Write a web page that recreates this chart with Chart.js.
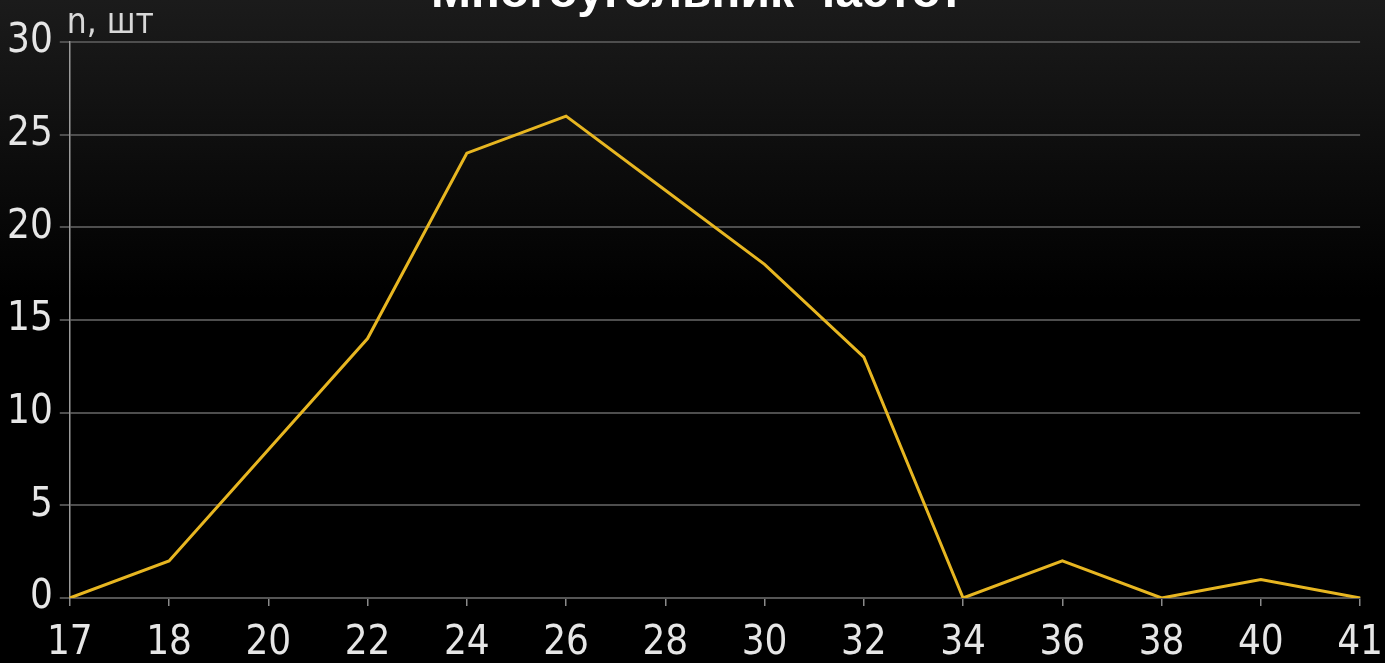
<!DOCTYPE html>
<html>
<head>
<meta charset="utf-8">
<script src="https://cdn.jsdelivr.net/npm/chart.js@4.4.1/dist/chart.umd.min.js"></script>
<style>
    html, body { margin: 0; padding: 0; }
    body {
        width: 1385px; height: 663px; overflow: hidden;
        background: linear-gradient(to bottom, #1b1b1b 0%, #141414 12%, #000 45%, #000 100%);
    }
    #wrap { position: relative; width: 1385px; height: 663px; }
</style>
</head>
<body>
<div id="wrap"><canvas id="chart"></canvas></div>
<script>
// values
const titleText = 'Многоугольник частот';
const yLabel = 'n, шт';
const categories = ['17', '18', '20', '22', '24', '26', '28', '30', '32', '34', '36', '38', '40', '41'];
const counts = [0, 2, 8, 14, 24, 26, 22, 18, 13, 0, 2, 0, 1, 0];
const yTicks = [0, 5, 10, 15, 20, 25, 30];

const narrow = '"Liberation Sans Narrow", "DejaVu Sans Condensed", sans-serif';

// title is cut off by the top edge in the reference, so draw it by hand
const extraText = {
    id: 'extraText',
    afterDraw(chart) {
        const ctx = chart.ctx;
        const area = chart.chartArea;
        ctx.save();
        ctx.fillStyle = '#ffffff';
        ctx.font = 'bold 48px "Liberation Sans", Arial, sans-serif';
        ctx.textAlign = 'center';
        ctx.textBaseline = 'alphabetic';
        ctx.fillText(titleText, 697, 7);

        ctx.fillStyle = '#d8d8d8';
        ctx.font = '35px ' + narrow;
        ctx.textAlign = 'left';
        ctx.fillText(yLabel, area.left - 3, area.top - 9);
        ctx.restore();
    }
};

document.addEventListener('DOMContentLoaded', function () {
    const ctx = document.getElementById('chart');
    new Chart(ctx, {
        type: 'line',
        data: {
            labels: categories,
            datasets: [{
                label: yLabel,
                data: counts,
                borderColor: '#e7b621',
                borderWidth: 3,
                pointRadius: 0,
                tension: 0,
                fill: false
            }]
        },
        options: {
            responsive: true,
            maintainAspectRatio: false,
            animation: false,
            layout: { padding: { top: 42, right: 7, bottom: -19, left: 0 } },
            plugins: {
                legend: { display: false },
                title: { display: false },
                tooltip: { enabled: false }
            },
            scales: {
                x: {
                    type: 'category',
                    offset: false,
                    grid: {
                        drawOnChartArea: false,
                        drawTicks: true,
                        tickLength: 8,
                        color: '#8a8a8a',
                        lineWidth: 1.5
                    },
                    border: { display: true, color: '#555555', width: 2 },
                    ticks: {
                        color: '#e6e6e6',
                        font: { family: narrow, size: 40, lineHeight: 1.8 },
                        padding: 2,
                        maxRotation: 0,
                        autoSkip: false
                    }
                },
                y: {
                    min: 0,
                    max: 30,
                    afterBuildTicks(axis) {
                        axis.ticks = yTicks.map(v => ({ value: v }));
                    },
                    grid: {
                        color: '#4e4e4e',
                        lineWidth: 2,
                        tickLength: 10
                    },
                    border: { display: true, color: '#9a9a9a', width: 1.5 },
                    ticks: {
                        color: '#e6e6e6',
                        font: { family: narrow, size: 40 },
                        padding: 7
                    }
                }
            }
        },
        plugins: [extraText]
    });
});
</script>
</body>
</html>
